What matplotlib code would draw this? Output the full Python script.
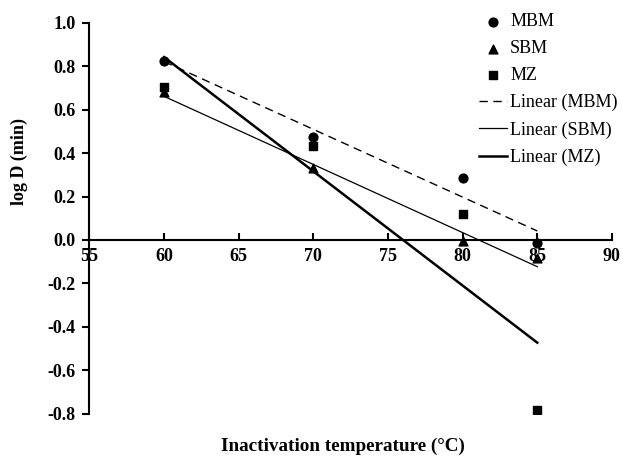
import matplotlib
matplotlib.use("Agg")
import matplotlib.pyplot as plt
import numpy as np

# ── Dados ─────────────────────────────────────────────────────────────────────
temp = [60, 70, 80, 85]
mbm = [0.825, 0.475, 0.285, -0.015]
sbm = [0.68, 0.33, -0.005, -0.085]
mz = [0.705, 0.435, 0.12, -0.785]

xticks = [55, 60, 65, 70, 75, 80, 85, 90]
yticks = [-0.8, -0.6, -0.4, -0.2, 0.0, 0.2, 0.4, 0.6, 0.8, 1.0]

plt.rcParams["font.family"] = ["Liberation Serif", "DejaVu Serif"]

fig = plt.figure(figsize=(6.23, 4.58), dpi=100)
ax = fig.add_axes([0.1435, 0.097, 0.8387, 0.853])

ax.scatter(temp, mbm, marker="o", s=40, color="black", zorder=3, label="MBM")
ax.scatter(temp, sbm, marker="^", s=40, color="black", zorder=3, label="SBM")
ax.scatter(temp, mz, marker="s", s=40, color="black", zorder=3, label="MZ")

# linhas de tendência (ajuste linear dos próprios dados)
xs = np.array([min(temp), max(temp)])
estilos = [(mbm, (0, (6, 4)), 1.0, "Linear (MBM)"),
           (sbm, "-", 0.9, "Linear (SBM)"),
           (mz, "-", 1.8, "Linear (MZ)")]
for ys, ls, lw, lab in estilos:
    a, b = np.polyfit(temp, ys, 1)
    ax.plot(xs, a * xs + b, color="black", linestyle=ls, linewidth=lw, label=lab)

ax.set_xlim(55, 90)
ax.set_ylim(-0.8, 1.0)
ax.spines["top"].set_visible(False)
ax.spines["right"].set_visible(False)
ax.spines["left"].set_position(("data", 55))
ax.spines["bottom"].set_position(("data", 0))
ax.spines["left"].set_linewidth(1.5)
ax.spines["bottom"].set_linewidth(1.5)

ax.set_xticks(xticks)
ax.set_yticks(yticks)
ax.set_yticklabels([f"{v:.1f}" for v in yticks])
ax.tick_params(axis="x", direction="in", length=5, width=1.5, pad=6,
               labelsize=13)
ax.tick_params(axis="y", direction="out", length=5, width=1.5, pad=5,
               labelsize=13)
for t in ax.get_xticklabels() + ax.get_yticklabels():
    t.set_fontweight("bold")

ax.set_ylabel("log D (min)", fontsize=13, fontweight="bold")
ax.yaxis.set_label_coords(-0.117, 0.644)
fig.text(0.55, 0.016, "Inactivation temperature (°C)", ha="center",
         va="baseline", fontsize=13.8, fontweight="bold")

ax.legend(loc="upper left", bbox_to_anchor=(0.732, 1.043), frameon=False,
          fontsize=13, handlelength=1.55, handletextpad=0.17,
          labelspacing=0.55, borderaxespad=0)

fig.savefig("out.png", dpi=100)
